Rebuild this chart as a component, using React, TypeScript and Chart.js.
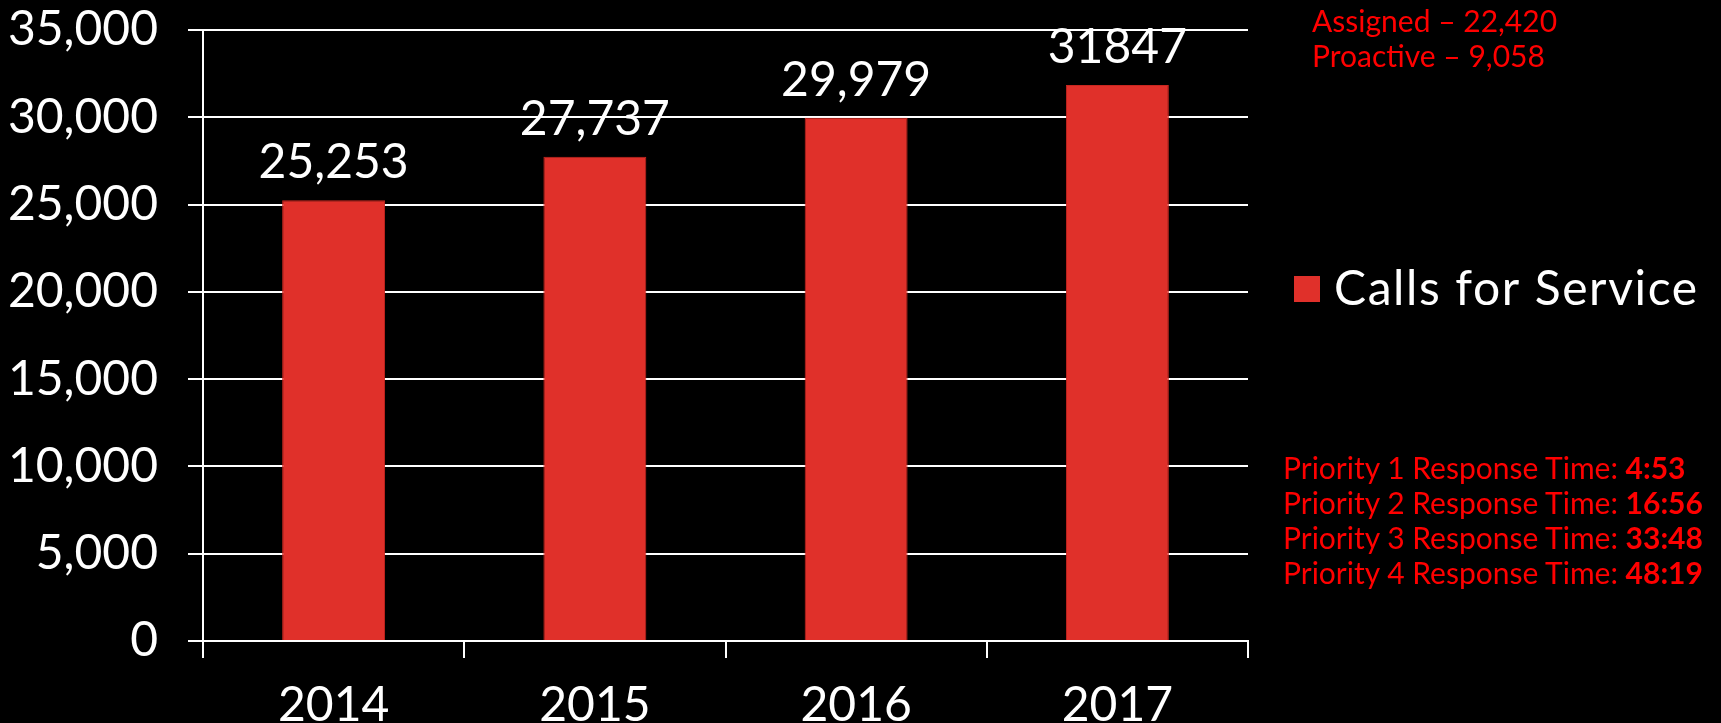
import React, { useEffect, useRef } from 'react';
import { Chart, registerables } from 'chart.js';

Chart.register(...registerables);

const categories = ['2014', '2015', '2016', '2017'];
const seriesName = 'Calls for Service';
const callsForService = [25253, 27737, 29979, 31847];
const valueLabels = ['25,253', '27,737', '29,979', '31847'];
const yMin = 0;
const yMax = 35000;
const yStep = 5000;
const callBreakdown = ['Assigned – 22,420', 'Proactive – 9,058'];
const priorityLabels = [
  'Priority 1 Response Time: ',
  'Priority 2 Response Time: ',
  'Priority 3 Response Time: ',
  'Priority 4 Response Time: ',
];
const priorityTimes = ['4:53', '16:56', '33:48', '48:19'];

const FONT = 'Lato, "Noto Sans", sans-serif';
const BAR_COLOR = '#E0302A';
const RED = '#FF0000';

const overlayPlugin = {
  id: 'overlayText',
  afterDatasetsDraw(chart: any) {
    const ctx = chart.ctx;
    const meta = chart.getDatasetMeta(0);
    ctx.save();
    ctx.fillStyle = '#ffffff';
    ctx.font = `48px ${FONT}`;
    ctx.textAlign = 'center';
    ctx.textBaseline = 'alphabetic';
    meta.data.forEach((bar: any, i: number) => {
      ctx.fillText(valueLabels[i], bar.x, bar.y - 22);
    });
    // legend
    const ds = chart.data.datasets[0];
    ctx.fillStyle = ds.backgroundColor;
    ctx.fillRect(1294, 276, 26, 26);
    ctx.fillStyle = '#ffffff';
    ctx.textAlign = 'left';
    ctx.textBaseline = 'middle';
    try {
      (ctx as any).letterSpacing = '1.6px';
    } catch (e) {}
    ctx.fillText(ds.label, 1334, 290);
    ctx.restore();
  },
};

export default function App() {
  const canvasRef = useRef<HTMLCanvasElement | null>(null);

  useEffect(() => {
    document.body.style.margin = '0';
    document.body.style.background = '#000';
    const canvas = canvasRef.current;
    if (!canvas) return;
    const chart = new Chart(canvas, {
      type: 'bar',
      data: {
        labels: categories,
        datasets: [
          {
            label: seriesName,
            data: callsForService,
            backgroundColor: BAR_COLOR,
            borderColor: '#C9261F',
            borderWidth: 1,
            categoryPercentage: 1,
            barPercentage: 0.394,
          },
        ],
      },
      options: {
        responsive: false,
        animation: false,
        devicePixelRatio: 1,
        layout: { padding: { left: 0, top: 30, right: 473, bottom: 0 } },
        plugins: {
          legend: { display: false },
          tooltip: { enabled: false },
        },
        scales: {
          x: {
            ticks: {
              color: '#ffffff',
              font: { family: FONT, size: 48 },
              padding: 19,
              maxRotation: 0,
            },
            grid: {
              drawOnChartArea: false,
              color: '#ffffff',
              lineWidth: 2,
              tickLength: 17,
              offset: true,
            },
            border: { color: '#ffffff', width: 2 },
            afterFit: (s: any) => {
              s.height = 82;
            },
          },
          y: {
            min: yMin,
            max: yMax,
            ticks: {
              stepSize: yStep,
              color: '#ffffff',
              font: { family: FONT, size: 48 },
              padding: 30,
              callback: (v: any) => Number(v).toLocaleString('en-US'),
            },
            grid: { color: '#ffffff', lineWidth: 2, tickLength: 15 },
            border: { color: '#ffffff', width: 2 },
            afterFit: (s: any) => {
              s.width = 203;
              s.paddingTop = 0;
              s.paddingBottom = 0;
            },
          },
        },
      },
      plugins: [overlayPlugin],
    });
    return () => chart.destroy();
  }, []);

  const textStyle: React.CSSProperties = {
    position: 'absolute',
    color: RED,
    fontFamily: FONT,
    fontSize: 30,
    lineHeight: '35px',
    whiteSpace: 'nowrap',
  };

  return (
    <div style={{ position: 'relative', width: 1721, height: 723, background: '#000', overflow: 'hidden' }}>
      <canvas ref={canvasRef} width={1721} height={723} style={{ display: 'block' }} />
      <div style={{ ...textStyle, left: 1312, top: 3 }}>
        {callBreakdown.map((t, i) => (
          <div key={i}>{t}</div>
        ))}
      </div>
      <div style={{ ...textStyle, left: 1283, top: 450 }}>
        {priorityLabels.map((t, i) => (
          <div key={i}>
            {t}
            <b>{priorityTimes[i]}</b>
          </div>
        ))}
      </div>
    </div>
  );
}
